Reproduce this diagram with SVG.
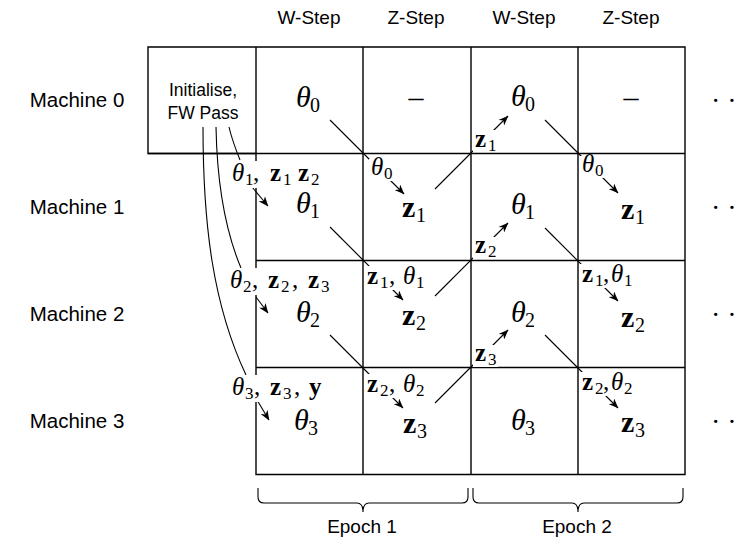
<svg xmlns="http://www.w3.org/2000/svg" width="741" height="544" viewBox="0 0 741 544">
  <defs>
    <style>
      .sans { font-family: "Liberation Sans", Arial, Helvetica, sans-serif; fill: #000; }
      .hdr { font-size: 19px; text-anchor: middle; }
      .mach { font-size: 20.5px; text-anchor: middle; }
      .init { font-size: 17.5px; text-anchor: middle; }
      .m { font-family: "Liberation Serif", "Times New Roman", serif; fill: #000; }
      .cell { font-size: 30px; }
      .lab { font-size: 25px; }
      .th { font-style: italic; }
      .bf { font-weight: bold; }
      .cs { font-size: 20px; }
      .ls { font-size: 17px; }
      .grid { fill: none; stroke: #000; stroke-width: 1.4; }
      .edge { fill: none; stroke: #000; stroke-width: 1.1; }
      .bg { fill: #fff; }
    </style>
    <marker id="ah" viewBox="0 0 10 8" refX="9.5" refY="4" markerWidth="10" markerHeight="8" markerUnits="userSpaceOnUse" orient="auto">
      <path d="M0,0 L10,4 L0,8 L3,4 Z" fill="#000"/>
    </marker>
  </defs>
  <rect width="741" height="544" fill="#fff"/>

  <!-- column headers -->
  <g id="headers" class="sans hdr">
    <text x="309" y="24">W-Step</text>
    <text x="416" y="24">Z-Step</text>
    <text x="524" y="24">W-Step</text>
    <text x="631" y="24">Z-Step</text>
  </g>

  <!-- row labels -->
  <g id="machines" class="sans mach">
    <text x="77" y="107">Machine 0</text>
    <text x="77" y="214">Machine 1</text>
    <text x="77" y="321">Machine 2</text>
    <text x="77" y="428">Machine 3</text>
  </g>

  <!-- schedule grid -->
  <g id="grid" class="grid">
    <path d="M148,47 H685 V474.5 H256 V153.5 H148 Z"/>
    <path d="M256,47 V153.5"/>
    <path d="M363,47 V474.5 M471,47 V474.5 M578,47 V474.5"/>
    <path d="M148,153.5 H685 M256,260.5 H685 M256,367.5 H685"/>
  </g>

  <!-- connectors -->
  <g id="connectors" class="edge">
    <path d="M203,127 C203,225 213,305 246,375"/>
    <path d="M216,127 C217,180 225,230 241,268"/>
    <path d="M229,127 C232,140 236,150 240,160"/>
    <path d="M252,187 L268,206" marker-end="url(#ah)"/>
    <path d="M256,297 L268,313" marker-end="url(#ah)"/>
    <path d="M257,400 L269,420" marker-end="url(#ah)"/>
    <path d="M330,120 L404,194" marker-end="url(#ah)"/>
    <path d="M435,189 L508,116" marker-end="url(#ah)"/>
    <path d="M545,120 L618,193" marker-end="url(#ah)"/>
    <path d="M330,227 L403,300" marker-end="url(#ah)"/>
    <path d="M435,296 L508,223" marker-end="url(#ah)"/>
    <path d="M545,228 L618,301" marker-end="url(#ah)"/>
    <path d="M330,335 L403,408" marker-end="url(#ah)"/>
    <path d="M435,403 L508,330" marker-end="url(#ah)"/>
    <path d="M545,335 L618,408" marker-end="url(#ah)"/>
  </g>

  <!-- connector labels -->
  <g id="edge-labels" class="m lab">
    <rect class="bg" x="229" y="161" width="94" height="27"/>
    <text y="181"><tspan x="232" class="th">θ</tspan><tspan x="245" y="185" class="ls">1</tspan><tspan x="253" y="181">,</tspan><tspan x="270" class="bf">z</tspan><tspan x="283" y="185" class="ls">1</tspan><tspan x="298" y="181" class="bf">z</tspan><tspan x="311" y="185" class="ls">2</tspan></text>

    <rect class="bg" x="227" y="268" width="106" height="27"/>
    <text y="288"><tspan x="230" class="th">θ</tspan><tspan x="243" y="292" class="ls">2</tspan><tspan x="252" y="288">,</tspan><tspan x="268" class="bf">z</tspan><tspan x="281" y="292" class="ls">2</tspan><tspan x="292" y="288">,</tspan><tspan x="308" class="bf">z</tspan><tspan x="321" y="292" class="ls">3</tspan></text>

    <rect class="bg" x="229" y="375" width="100" height="27"/>
    <text y="395"><tspan x="232" class="th">θ</tspan><tspan x="245" y="399" class="ls">3</tspan><tspan x="254" y="395">,</tspan><tspan x="270" class="bf">z</tspan><tspan x="283" y="399" class="ls">3</tspan><tspan x="294" y="395">,</tspan><tspan x="309" class="bf">y</tspan></text>

    <rect class="bg" x="369" y="159" width="25" height="22"/>
    <text y="175"><tspan x="371" class="th">θ</tspan><tspan x="384" y="179" class="ls">0</tspan></text>

    <rect class="bg" x="365" y="266" width="64" height="24"/>
    <text y="284"><tspan x="367" class="bf">z</tspan><tspan x="380" y="288" class="ls">1</tspan><tspan x="389" y="284">,</tspan><tspan x="403" class="th">θ</tspan><tspan x="416" y="288" class="ls">1</tspan></text>

    <rect class="bg" x="365" y="374" width="64" height="24"/>
    <text y="392"><tspan x="367" class="bf">z</tspan><tspan x="380" y="396" class="ls">2</tspan><tspan x="389" y="392">,</tspan><tspan x="403" class="th">θ</tspan><tspan x="416" y="396" class="ls">2</tspan></text>

    <rect class="bg" x="473" y="130" width="25" height="22"/>
    <text y="147"><tspan x="475" class="bf">z</tspan><tspan x="488" y="151" class="ls">1</tspan></text>

    <rect class="bg" x="473" y="237" width="25" height="22"/>
    <text y="253"><tspan x="475" class="bf">z</tspan><tspan x="488" y="257" class="ls">2</tspan></text>

    <rect class="bg" x="473" y="345" width="25" height="22"/>
    <text y="361"><tspan x="475" class="bf">z</tspan><tspan x="488" y="365" class="ls">3</tspan></text>

    <rect class="bg" x="580" y="156" width="24" height="22"/>
    <text y="172"><tspan x="582" class="th">θ</tspan><tspan x="595" y="176" class="ls">0</tspan></text>

    <rect class="bg" x="580" y="264" width="62" height="24"/>
    <text y="282"><tspan x="582" class="bf">z</tspan><tspan x="595" y="286" class="ls">1</tspan><tspan x="603" y="282">,</tspan><tspan x="611" class="th">θ</tspan><tspan x="624" y="286" class="ls">1</tspan></text>

    <rect class="bg" x="580" y="372" width="62" height="24"/>
    <text y="390"><tspan x="582" class="bf">z</tspan><tspan x="595" y="394" class="ls">2</tspan><tspan x="603" y="390">,</tspan><tspan x="611" class="th">θ</tspan><tspan x="624" y="394" class="ls">2</tspan></text>
  </g>

  <!-- cell contents -->
  <g id="n-init" class="sans init">
    <text x="203" y="96">Initialise,</text>
    <text x="203" y="119">FW Pass</text>
  </g>
  <g id="n-r0c1" class="m cell"><text y="107"><tspan x="296" class="th">θ</tspan><tspan x="310" y="112" class="cs">0</tspan></text></g>
  <g id="n-r0c2" class="m cell"><text x="416" y="107" text-anchor="middle">–</text></g>
  <g id="n-r0c3" class="m cell"><text y="106"><tspan x="511" class="th">θ</tspan><tspan x="525" y="111" class="cs">0</tspan></text></g>
  <g id="n-r0c4" class="m cell"><text x="631" y="107" text-anchor="middle">–</text></g>

  <g id="n-r1c1" class="m cell"><text y="213"><tspan x="296" class="th">θ</tspan><tspan x="310" y="218" class="cs">1</tspan></text></g>
  <g id="n-r1c2" class="m cell"><text y="217"><tspan x="402" class="bf">z</tspan><tspan x="416" y="222" class="cs">1</tspan></text></g>
  <g id="n-r1c3" class="m cell"><text y="214"><tspan x="511" class="th">θ</tspan><tspan x="525" y="219" class="cs">1</tspan></text></g>
  <g id="n-r1c4" class="m cell"><text y="219"><tspan x="621" class="bf">z</tspan><tspan x="635" y="224" class="cs">1</tspan></text></g>

  <g id="n-r2c1" class="m cell"><text y="322"><tspan x="296" class="th">θ</tspan><tspan x="310" y="327" class="cs">2</tspan></text></g>
  <g id="n-r2c2" class="m cell"><text y="325"><tspan x="402" class="bf">z</tspan><tspan x="416" y="330" class="cs">2</tspan></text></g>
  <g id="n-r2c3" class="m cell"><text y="322"><tspan x="511" class="th">θ</tspan><tspan x="525" y="327" class="cs">2</tspan></text></g>
  <g id="n-r2c4" class="m cell"><text y="327"><tspan x="621" class="bf">z</tspan><tspan x="635" y="332" class="cs">2</tspan></text></g>

  <g id="n-r3c1" class="m cell"><text y="430"><tspan x="294" class="th">θ</tspan><tspan x="308" y="435" class="cs">3</tspan></text></g>
  <g id="n-r3c2" class="m cell"><text y="433"><tspan x="403" class="bf">z</tspan><tspan x="417" y="438" class="cs">3</tspan></text></g>
  <g id="n-r3c3" class="m cell"><text y="430"><tspan x="511" class="th">θ</tspan><tspan x="525" y="435" class="cs">3</tspan></text></g>
  <g id="n-r3c4" class="m cell"><text y="432"><tspan x="621" class="bf">z</tspan><tspan x="635" y="437" class="cs">3</tspan></text></g>

  <!-- continuation dots -->
  <g id="more" class="m" font-size="28">
    <text x="711" y="110">· ·</text>
    <text x="711" y="217">· ·</text>
    <text x="711" y="324">· ·</text>
    <text x="711" y="431">· ·</text>
  </g>

  <!-- epoch braces -->
  <g id="epochs">
    <path class="edge" d="M258,488 V497 Q258,503 264,503 H357 Q363,503 363,512 Q363,503 369,503 H462 Q468,503 468,497 V488"/>
    <path class="edge" d="M473,488 V497 Q473,503 479,503 H572 Q578,503 578,512 Q578,503 584,503 H677 Q683,503 683,497 V488"/>
    <text class="sans hdr" x="362" y="533">Epoch 1</text>
    <text class="sans hdr" x="577" y="533">Epoch 2</text>
  </g>
</svg>
